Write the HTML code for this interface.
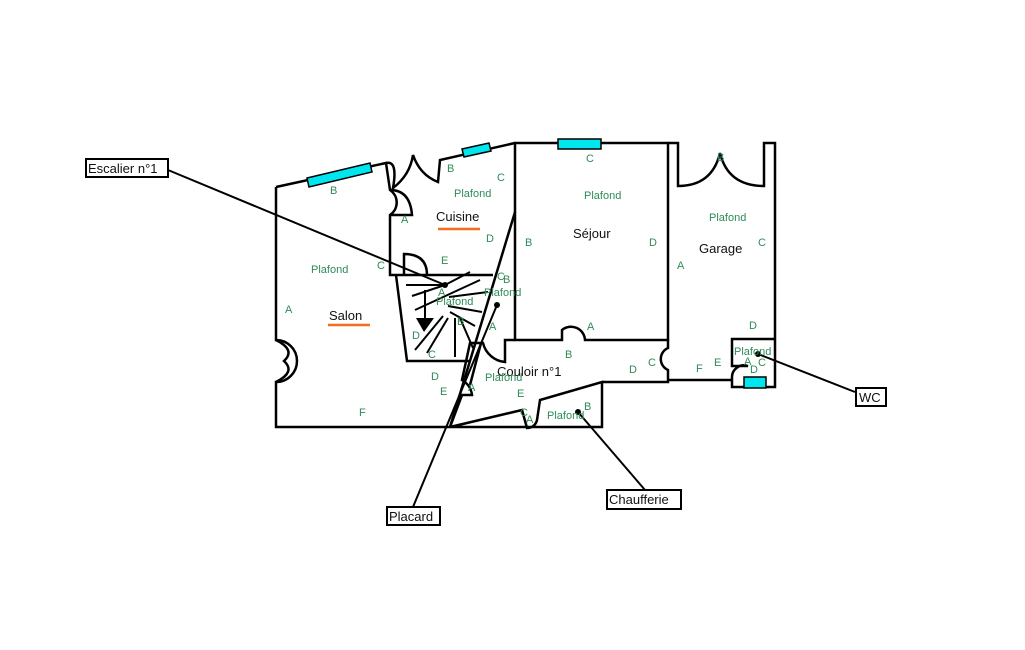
<!DOCTYPE html>
<html><head><meta charset="utf-8"><style>
body{margin:0;background:#fff;width:1025px;height:650px;overflow:hidden}
svg{display:block}
.w{fill:none;stroke:#000;stroke-width:2.5}
.t{stroke:#000;stroke-width:2;fill:none}
.g{font-family:"Liberation Sans",sans-serif;font-size:11px;fill:#2e8b57}
.n{font-family:"Liberation Sans",sans-serif;font-size:13px;fill:#111}
.win{fill:#00e5ee;stroke:#000;stroke-width:1.5}
</style></head><body>
<svg width="1025" height="650" viewBox="0 0 1025 650">
<path class="w" d="M276,187 L276,340 A14,14 0 0 1 276,382 L276,427 L602,427 L602,382 L540,400 L537,420 A10,10 0 0 1 527,428 L522,410 L450,427"/>
<path class="w" d="M276,340 Q296,350 284,361 Q296,372 276,382" />
<path class="w" d="M276,187 L386,163 L390,190 A15,15 0 0 1 390,215 L390,275 L396,275"/>
<path class="w" d="M390,190 Q410,190 412,215 L390,215"/>
<polygon class="win" points="307,178 370,163 372,172 309,187"/>
<path class="w" d="M386,163 Q398,160 393,188 Q410,175 413,155 Q420,175 438,182 L440,160 L515,143"/>
<polygon class="win" points="462,149 489,143 491,151 464,157"/>
<path class="w" d="M396,275 L493,275 M396,275 L407,361 L470,361"/>
<path class="w" d="M404,275 L404,254 Q427,254 427,275"/>
<g class="t">
<line x1="406" y1="285" x2="445" y2="285"/>
<line x1="415" y1="310" x2="480" y2="280"/>
<line x1="445" y1="285" x2="470" y2="272"/>
<line x1="412" y1="296" x2="445" y2="285"/>
<line x1="449" y1="297" x2="488" y2="292"/>
<line x1="448" y1="306" x2="482" y2="312"/>
<line x1="450" y1="312" x2="475" y2="326"/>
<line x1="443" y1="316" x2="415" y2="350"/>
<line x1="448" y1="318" x2="427" y2="353"/>
<line x1="455" y1="318" x2="455" y2="357"/>
<line x1="460" y1="318" x2="473" y2="348"/>
<line x1="425" y1="290" x2="425" y2="318"/>
</g>
<polygon points="416,318 434,318 424,332" fill="#000"/>
<path class="w" d="M515,143 L668,143 L668,340 L585,340 A14,14 0 0 0 562,330 L562,340 L515,340 Z"/>
<polygon class="win" points="558,139 601,139 601,149 558,149"/>
<path class="w" d="M515,340 L505,340 L505,362 A25,25 0 0 1 483,343 L470,343 L462,380 A20,20 0 0 1 472,395 L462,395 L450,427"/>
<path class="w" d="M602,382 L668,382 L668,370 A12,12 0 0 1 668,348 L668,340"/>
<line class="w" x1="515" y1="212" x2="450" y2="427"/>
<path class="w" d="M481,343 L470,385"/>
<path class="w" d="M668,143 L678,143 L678,186 Q712,186 720,153 Q728,186 764,186 L764,143 L775,143 L775,387 L732,387 L732,378 A12,12 0 0 1 748,366 L732,366 L732,339 L775,339"/>
<line class="w" x1="668" y1="380" x2="732" y2="380"/>
<polygon class="win" points="744,377 766,377 766,388 744,388"/>
<g stroke="#000" stroke-width="2">
<line x1="168" y1="170" x2="445" y2="285"/>
<line x1="413" y1="507" x2="497" y2="305"/>
<line x1="645" y1="490" x2="578" y2="412"/>
<line x1="855" y1="392" x2="758" y2="354"/>
</g>
<circle cx="445" cy="285" r="3"/><circle cx="497" cy="305" r="3"/><circle cx="578" cy="412" r="3"/><circle cx="758" cy="354" r="3"/>
<g fill="#fff" stroke="#000" stroke-width="2">
<rect x="86" y="159" width="82" height="18"/><rect x="387" y="507" width="53" height="18"/>
<rect x="607" y="490" width="74" height="19"/><rect x="856" y="388" width="30" height="18"/>
</g>
<text class="n" x="88" y="173">Escalier n°1</text>
<text class="n" x="389" y="521">Placard</text>
<text class="n" x="609" y="504">Chaufferie</text>
<text class="n" x="859" y="402">WC</text>
<text class="n" x="436" y="221">Cuisine</text>
<line x1="438" y1="229" x2="480" y2="229" stroke="#f07020" stroke-width="2.5"/>
<text class="n" x="329" y="320">Salon</text>
<line x1="328" y1="325" x2="370" y2="325" stroke="#f07020" stroke-width="2.5"/>
<text class="n" x="573" y="238">Séjour</text>
<text class="n" x="699" y="253">Garage</text>
<text class="n" x="497" y="376">Couloir n°1</text>
<g class="g">
<text x="330" y="194">B</text><text x="311" y="273">Plafond</text><text x="285" y="313">A</text>
<text x="377" y="269">C</text><text x="359" y="416">F</text>
<text x="447" y="172">B</text><text x="497" y="181">C</text><text x="454" y="197">Plafond</text>
<text x="401" y="223">A</text><text x="486" y="242">D</text><text x="441" y="264">E</text>
<text x="438" y="296">A</text><text x="436" y="305">Plafond</text><text x="457" y="325">B</text>
<text x="412" y="339">D</text><text x="428" y="358">C</text><text x="431" y="380">D</text><text x="440" y="395">E</text>
<text x="497" y="280">C</text><text x="503" y="283">B</text><text x="484" y="296">Plafond</text><text x="489" y="330">A</text>
<text x="468" y="391">A</text><text x="485" y="381">Plafond</text><text x="517" y="397">E</text>
<text x="520" y="416">C</text><text x="526" y="423">A</text><text x="547" y="419">Plafond</text><text x="584" y="410">B</text>
<text x="586" y="162">C</text><text x="584" y="199">Plafond</text><text x="525" y="246">B</text><text x="649" y="246">D</text>
<text x="587" y="330">A</text><text x="565" y="358">B</text><text x="629" y="373">D</text><text x="648" y="366">C</text>
<text x="717" y="161">B</text><text x="709" y="221">Plafond</text><text x="758" y="246">C</text><text x="677" y="269">A</text>
<text x="749" y="329">D</text><text x="734" y="355">Plafond</text><text x="744" y="365">A</text><text x="758" y="366">C</text><text x="750" y="373">D</text>
<text x="714" y="366">E</text><text x="696" y="372">F</text>
</g>
</svg>
</body></html>
